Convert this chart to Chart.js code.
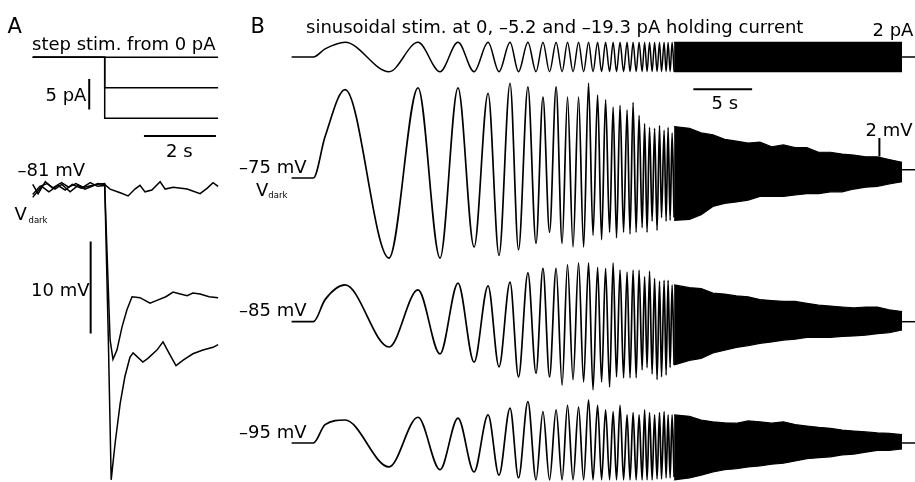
<!DOCTYPE html>
<html>
<head>
<meta charset="utf-8">
<script src="https://cdn.jsdelivr.net/npm/chart.js@4.4.1/dist/chart.umd.min.js"></script>
<style>
  body { margin: 0; background: #fff; }
  #fig { position: relative; width: 915px; height: 482px; overflow: hidden; font-family: "DejaVu Sans", sans-serif; }
  #fig canvas { position: absolute; left: 0; top: 0; }
  .lbl { position: absolute; white-space: nowrap; color: #000; }
</style>
</head>
<body>
<div id="fig"></div>
<script>
// ---------- panel A: step stimulation (time in s, current in pA, voltage in mV)
const stepT = [-2, 0, 0, 3.15];
const step0 = [0, 0, 0, 0];
const step1 = [0, 0, -5, -5];
const step2 = [0, 0, -10, -10];

const a0T = [-2, -1.8, -1.6, -1.38, -1.19, -0.96, -0.74, -0.55, -0.35, -0.19, 0, 0.15, 0.43, 0.65, 0.84, 0.98, 1.12, 1.31, 1.54, 1.68, 1.9, 2.29, 2.65, 2.85, 3.01, 3.15];
const a0V = [-81.5, -80.6, -80.3, -80.9, -80.4, -81.2, -80.5, -80.9, -80.6, -80.3, -80.4, -80.9, -81.3, -81.65, -80.9, -80.5, -81.2, -81.0, -80.1, -80.9, -80.7, -80.9, -81.4, -80.8, -80.2, -80.6];
const a1T = [-2, -1.85, -1.65, -1.45, -1.2, -1.0, -0.8, -0.6, -0.4, -0.2, 0, 0.15, 0.23, 0.34, 0.48, 0.62, 0.76, 0.98, 1.26, 1.45, 1.7, 1.9, 2.1, 2.29, 2.45, 2.65, 2.9, 3.15];
const a1V = [-80.4, -81.4, -80.1, -80.8, -80.2, -80.7, -80.3, -80.7, -80.2, -80.6, -80.5, -97.3, -99.4, -98.4, -95.9, -94.0, -92.6, -92.7, -93.3, -93.0, -92.6, -92.1, -92.3, -92.5, -92.2, -92.3, -92.6, -92.7];
const a2T = [-2, -1.75, -1.55, -1.3, -1.1, -0.9, -0.65, -0.45, -0.25, 0, 0.1, 0.18, 0.29, 0.43, 0.56, 0.70, 0.79, 1.06, 1.20, 1.45, 1.62, 1.81, 1.98, 2.18, 2.45, 2.73, 3.01, 3.15];
const a2V = [-81.8, -80.6, -81.2, -80.5, -81.0, -80.4, -80.8, -80.6, -80.4, -80.3, -97.0, -112.5, -108.5, -104.2, -101.3, -99.2, -98.7, -99.7, -99.3, -98.4, -97.5, -98.9, -100.1, -99.5, -98.8, -98.4, -98.1, -97.8];

// scale bars of panel A
const barA5pA = { t: [-0.43, -0.43], v: [-3.55, -8.55] };
const barA2s = { t: [1.09, 3.09], v: [-12.9, -12.9] };
const barA10mV = { t: [-0.39, -0.39], v: [-86.6, -96.6] };

// ---------- panel B: chirp stimulation, resolved extrema then dense band
const chirpT = [-1.85, 0, 1.0, 2.70, 6.44, 8.91, 10.78, 12.31, 13.68, 14.87, 15.80, 16.74, 17.46, 18.26, 18.95, 19.54, 20.10, 20.66, 21.17, 21.63, 22.10, 22.57, 23.00, 23.42, 23.80, 24.19, 24.53, 24.87, 25.21, 25.51, 25.80, 26.10, 26.40, 26.70, 26.95, 27.21, 27.47, 27.72, 27.98, 28.19, 28.40, 28.61, 28.83, 29.04, 29.25, 29.46, 29.63, 29.85, 30.02, 30.19, 30.36, 30.53, 30.70];
const stimB = [0, 0, 1.1,
  2, -2, 2, -2, 2, -2, 2, -2, 2, -2,
  2, -2, 2, -2, 2, -2, 2, -2, 2, -2,
  2, -2, 2, -2, 2, -2, 2, -2, 2, -2,
  2, -2, 2, -2, 2, -2, 2, -2, 2, -2,
  2, -2, 2, -2, 2, -2, 2, -2, 2, -2];
const vm75 = [-75, -75, -70.5,
  -65.4, -83.7, -65.2, -83.7, -65.2, -82.5, -65.8, -83.4, -64.7, -82.8,
  -65.1, -82.1, -66.2, -80.9, -65.1, -82.1, -66.2, -82.5, -66.2, -82.5,
  -64.7, -81.2, -66.0, -81.7, -66.5, -80.9, -67.3, -81.5, -67.1, -80.9,
  -67.6, -81.1, -66.8, -80.9, -68.2, -80.4, -69.1, -80.9, -69.5, -79.7,
  -69.6, -80.7, -69.3, -79.3, -69.8, -79.7, -69.5, -79.6, -70.1, -79.3];
const vm85 = [-85, -85, -82.6,
  -81.0, -87.75, -81.55, -88.5, -80.8, -89.4, -81.1, -89.9, -80.7, -91.0,
  -79.7, -90.6, -79.2, -91.0, -79.2, -91.9, -78.8, -91.3, -78.6, -91.55,
  -78.6, -92.4, -79.1, -91.55, -79.2, -92.1, -78.6, -91.0, -79.4, -91.1,
  -79.6, -91.1, -79.4, -91.1, -79.4, -90.25, -80.1, -90.0, -79.5, -90.7,
  -80.3, -91.3, -80.6, -91.0, -80.5, -90.8, -80.5, -90.0, -81.0, -89.7];
const vm95 = [-95, -95, -93.0,
  -92.5, -97.6, -92.2, -97.9, -92.3, -98.15, -91.95, -98.5, -91.2, -98.8,
  -90.5, -99.0, -91.6, -99.0, -91.4, -99.0, -90.9, -99.0, -91.1, -99.0,
  -90.3, -99.0, -90.9, -99.0, -91.4, -99.0, -91.6, -99.0, -90.9, -99.0,
  -91.95, -99.0, -91.7, -99.0, -91.95, -99.0, -91.4, -99.0, -91.7, -99.0,
  -91.95, -98.9, -91.7, -98.9, -91.6, -98.8, -91.95, -98.8, -91.95, -98.7];

const bandT = [30.7, 32, 33, 34, 35, 36, 37, 38, 39, 40, 41, 42, 43, 44, 45, 46, 47, 48, 49, 50.1];
const stimUpper = [2, 2, 2, 2, 2, 2, 2, 2, 2, 2, 2, 2, 2, 2, 2, 2, 2, 2, 2, 2];
const stimLower = [-2, -2, -2, -2, -2, -2, -2, -2, -2, -2, -2, -2, -2, -2, -2, -2, -2, -2, -2, -2];
const vm75Upper = [-69.4, -69.6, -70.1, -70.3, -70.8, -71.0, -71.2, -71.1, -71.6, -71.4, -71.7, -71.7, -72.2, -72.2, -72.4, -72.5, -72.7, -72.7, -73.0, -73.3];
const vm75Lower = [-79.6, -79.5, -79.0, -78.1, -77.75, -77.6, -77.4, -77.0, -77.0, -77.0, -76.85, -76.7, -76.7, -76.5, -76.5, -76.2, -76.0, -75.9, -75.65, -75.4];
const vm85Upper = [-81.0, -81.3, -81.4, -81.9, -82.0, -82.2, -82.3, -82.6, -82.7, -82.8, -82.8, -83.0, -83.2, -83.3, -83.4, -83.5, -83.4, -83.4, -83.7, -83.9];
const vm85Lower = [-89.7, -89.2, -89.0, -88.4, -88.1, -87.8, -87.6, -87.35, -87.2, -87.0, -86.9, -86.7, -86.7, -86.7, -86.6, -86.55, -86.45, -86.3, -86.2, -85.9];
const vm95Upper = [-91.95, -92.1, -92.5, -92.7, -92.8, -92.85, -92.6, -92.7, -92.85, -92.7, -93.0, -93.15, -93.3, -93.4, -93.6, -93.7, -93.8, -93.9, -93.95, -94.1];
const vm95Lower = [-99.0, -98.8, -98.5, -98.15, -97.9, -97.8, -97.6, -97.5, -97.3, -97.2, -96.95, -96.7, -96.6, -96.5, -96.3, -96.2, -96.0, -95.8, -95.8, -95.65];

const tailT = [50.1, 51.2];
const stimTail = [0, 0];
const vm75Tail = [-74.1, -74.1];
const vm85Tail = [-85.0, -85.0];
const vm95Tail = [-95.0, -95.0];

// scale bars of panel B
const barB5s = { t: [32.34, 37.34], v: [-4.39, -4.39] };
const barB2mV = { t: [48.17, 48.17], v: [-70.65, -72.65] };

// ---------- drawing
const W = 915, H = 482;
const fig = document.getElementById('fig');

function pts(ts, vs) { return ts.map((t, i) => ({ x: t, y: vs[i] })); }
function trace(ts, vs, extra) {
  return Object.assign({ data: pts(ts, vs), borderColor: '#000', borderWidth: 1.5, pointRadius: 0, fill: false, clip: false, tension: 0 }, extra || {});
}
function bar(b) { return trace(b.t, b.v, { borderWidth: 2, borderCapStyle: 'butt' }); }
const smooth = { cubicInterpolationMode: 'monotone', borderWidth: 1.7 };
const bandTop = { fill: '+1', backgroundColor: '#000', borderWidth: 1.2 };
const bandBottom = { borderWidth: 1.2 };

// box = [left, top, right, bottom] of the plotting area on the page
function panel(box, xr, yr, datasets) {
  const cv = document.createElement('canvas');
  cv.width = W; cv.height = H;
  fig.appendChild(cv);
  new Chart(cv, {
    type: 'line',
    data: { datasets },
    options: {
      responsive: false,
      animation: false,
      events: [],
      layout: { padding: { left: box[0], top: box[1], right: W - box[2], bottom: H - box[3] } },
      plugins: { legend: { display: false }, tooltip: { enabled: false } },
      scales: {
        x: { type: 'linear', display: false, min: xr[0], max: xr[1] },
        y: { type: 'linear', display: false, min: yr[0], max: yr[1] }
      }
    }
  });
}

const xA = [-2, 3.15];
panel([32.7, 57.3, 218.1, 118.3], xA, [-10, 0], [
  trace(stepT, step0), trace(stepT, step1), trace(stepT, step2),
  bar(barA5pA), bar(barA2s)
]);
panel([32.7, 180.8, 218.1, 475.2], xA, [-112, -80], [
  trace(a0T, a0V), trace(a1T, a1V), trace(a2T, a2V),
  bar(barA10mV)
]);

const xB = [-1.85, 51.2];
panel([291.6, 38.6, 915, 75.4], xB, [-2.5, 2.5], [
  trace(chirpT, stimB, { cubicInterpolationMode: 'monotone' }),
  trace(bandT, stimUpper, bandTop), trace(bandT, stimLower, bandBottom),
  trace(tailT, stimTail),
  bar(barB5s)
]);
panel([291.6, 76.8, 915, 260.8], xB, [-84, -64], [
  trace(chirpT, vm75, smooth),
  trace(bandT, vm75Upper, bandTop), trace(bandT, vm75Lower, bandBottom),
  trace(tailT, vm75Tail),
  bar(barB2mV)
]);
panel([291.6, 257.3, 915, 386.1], xB, [-92, -78], [
  trace(chirpT, vm85, smooth),
  trace(bandT, vm85Upper, bandTop), trace(bandT, vm85Lower, bandBottom),
  trace(tailT, vm85Tail)
]);
panel([291.6, 397, 915, 479.8], xB, [-99, -90], [
  trace(chirpT, vm95, smooth),
  trace(bandT, vm95Upper, bandTop), trace(bandT, vm95Lower, bandBottom),
  trace(tailT, vm95Tail)
]);

// ---------- text: [text, left, baseline, size]
const labels = [
  ['A', 7.5, 33.3, 21],
  ['step stim. from 0 pA', 32, 50, 18],
  ['5 pA', 45.5, 101, 18],
  ['2 s', 166, 157.7, 18],
  ['\u201381 mV', 17.5, 176.7, 18],
  ['V', 14.5, 220, 18],
  ['dark', 28.5, 222.7, 8.5],
  ['10 mV', 31, 296.7, 18],
  ['B', 250.5, 33.3, 21],
  ['sinusoidal stim. at 0, \u20135.2 and \u201319.3 pA holding current', 306, 33.3, 18],
  ['2 pA', 872.5, 36.7, 18],
  ['5 s', 711.5, 109.3, 18],
  ['2 mV', 865.5, 136.7, 18],
  ['\u201375 mV', 239, 173.3, 18],
  ['V', 256, 196, 18],
  ['dark', 268.3, 198.3, 8.5],
  ['\u201385 mV', 239, 316, 18],
  ['\u201395 mV', 239, 438.3, 18]
];
labels.forEach(([text, x, base, size]) => {
  const d = document.createElement('div');
  d.className = 'lbl';
  d.textContent = text;
  d.style.left = x + 'px';
  d.style.top = (base - 0.846 * size) + 'px';
  d.style.fontSize = size + 'px';
  d.style.lineHeight = size + 'px';
  fig.appendChild(d);
});
</script>
</body>
</html>
